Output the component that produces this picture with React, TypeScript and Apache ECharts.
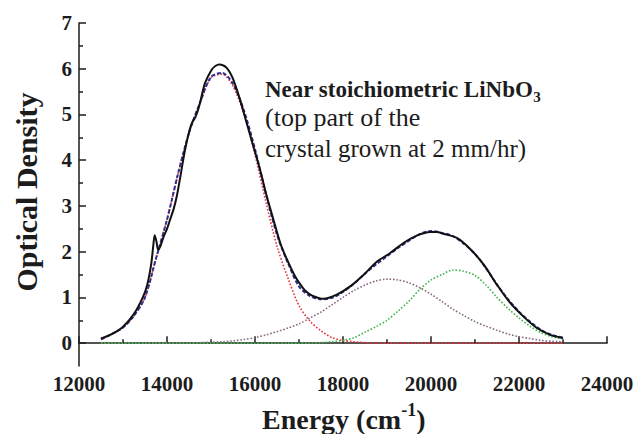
import React, { useEffect, useRef } from "react";
import * as echarts from "echarts";

// Energy grid of the fitted curves (cm^-1)
const fitEnergy = [12500, 12750, 13000, 13250, 13500, 13750, 14000, 14250, 14500, 14750, 15000, 15250, 15500, 15750, 16000, 16250, 16500, 16750, 17000, 17250, 17500, 17750, 18000, 18250, 18500, 18750, 19000, 19250, 19500, 19750, 20000, 20250, 20500, 20750, 21000, 21250, 21500, 21750, 22000, 22250, 22500, 22750, 23000];

// Total fit (blue dashed)
const fitTotal = [0.08, 0.2, 0.34, 0.6, 1.0, 1.85, 2.7, 3.7, 4.6, 5.26, 5.82, 5.91, 5.67, 5.08, 4.24, 3.26, 2.37, 1.75, 1.24, 1.03, 0.96, 0.99, 1.12, 1.3, 1.52, 1.72, 1.9, 2.08, 2.24, 2.39, 2.45, 2.41, 2.34, 2.17, 1.95, 1.64, 1.28, 0.96, 0.69, 0.47, 0.29, 0.18, 0.12];

// Gaussian components (dotted)
const bandRed = [0.08, 0.2, 0.34, 0.6, 1.0, 1.85, 2.7, 3.7, 4.6, 5.25, 5.8, 5.88, 5.62, 5.0, 4.12, 3.08, 2.12, 1.42, 0.82, 0.48, 0.27, 0.12, 0.06, 0.03, 0.01, 0, 0, 0, 0, 0, 0, 0, 0, 0, 0, 0, 0, 0, 0, 0, 0, 0, 0];
const bandMauve = [0, 0, 0, 0, 0, 0, 0, 0, 0, 0.01, 0.02, 0.03, 0.05, 0.08, 0.12, 0.18, 0.25, 0.33, 0.42, 0.55, 0.68, 0.84, 1.0, 1.15, 1.27, 1.36, 1.4, 1.38, 1.32, 1.21, 1.07, 0.91, 0.74, 0.6, 0.47, 0.37, 0.28, 0.2, 0.14, 0.1, 0.06, 0.04, 0.03];
const bandGreen = [0, 0, 0, 0, 0, 0, 0, 0, 0, 0, 0, 0, 0, 0, 0, 0, 0, 0, 0, 0, 0.01, 0.03, 0.06, 0.12, 0.24, 0.36, 0.5, 0.7, 0.92, 1.18, 1.38, 1.5, 1.6, 1.57, 1.48, 1.27, 1.0, 0.76, 0.55, 0.37, 0.23, 0.14, 0.09];

// Measured spectrum (black)
const measuredEnergy = [12500, 12750, 13000, 13250, 13450, 13550, 13640, 13690, 13720, 13760, 13800, 13850, 13920, 14000, 14070, 14150, 14220, 14300, 14410, 14520, 14580, 14640, 14700, 14750, 14865, 15015, 15100, 15190, 15280, 15356, 15430, 15508, 15661, 15812, 15964, 16115, 16267, 16419, 16570, 16680, 16800, 16900, 17025, 17150, 17300, 17555, 17858, 18162, 18465, 18768, 19071, 19374, 19677, 19981, 20133, 20284, 20587, 20890, 21194, 21497, 21800, 22103, 22407, 22710, 23000];
const measuredOD = [0.1, 0.2, 0.36, 0.64, 1.0, 1.27, 1.72, 2.15, 2.36, 2.22, 2.04, 2.12, 2.32, 2.5, 2.7, 2.93, 3.2, 3.62, 4.23, 4.68, 4.84, 4.93, 5.08, 5.25, 5.69, 5.98, 6.06, 6.09, 6.07, 6.02, 5.92, 5.76, 5.32, 4.81, 4.3, 3.79, 3.21, 2.7, 2.2, 1.93, 1.68, 1.48, 1.29, 1.14, 1.04, 0.97, 1.06, 1.24, 1.49, 1.78, 1.97, 2.19, 2.35, 2.43, 2.43, 2.39, 2.3, 2.06, 1.72, 1.28, 0.88, 0.58, 0.33, 0.18, 0.11];

const yMajorTicks = [0, 1, 2, 3, 4, 5, 6, 7];
const yMinorTicks = [0.5, 1.5, 2.5, 3.5, 4.5, 5.5, 6.5];

const SERIF = "Liberation Serif, Times New Roman, serif";
const INK = "#1c1c1c";

function measure(text: string, font: string): number {
  const ctx = document.createElement("canvas").getContext("2d");
  if (!ctx) return text.length * 10;
  ctx.font = font;
  return ctx.measureText(text).width;
}

function zip(xs: number[], ys: number[]) {
  return xs.map((x, i) => [x, ys[i]]);
}

export default function App() {
  const ref = useRef<HTMLDivElement>(null);
  useEffect(() => {
    if (!ref.current) return;
    const chart = echarts.init(ref.current, undefined, { renderer: "svg" });

    const titleMain = "Near stoichiometric LiNbO";
    const titleW = measure(titleMain, `bold 23px ${SERIF}`);
    const xTitleMain = "Energy (cm";
    const xTitleW = measure(xTitleMain, `bold 28px ${SERIF}`);
    const supW = measure("-1", `bold 18px ${SERIF}`);

    const txt = (size: number, bold: boolean) => ({
      fill: INK,
      fontFamily: SERIF,
      fontSize: size,
      fontWeight: bold ? "bold" : "normal",
      align: "left",
      verticalAlign: "middle",
    });

    const dotted = (color: string) => ({ color, width: 1.6, type: [1.6, 1.8] as any, cap: "butt" as const });

    chart.setOption({
      animation: false,
      grid: { left: 79, right: 31, top: 23, bottom: 68 },
      xAxis: {
        type: "value",
        min: 12000,
        max: 24000,
        interval: 2000,
        axisLine: { show: true, lineStyle: { color: INK, width: 1.5 } },
        axisTick: { show: true, inside: true, length: 7, lineStyle: { color: INK, width: 1.5 } },
        minorTick: { show: true, splitNumber: 2, length: 4, lineStyle: { color: INK, width: 1.5 } },
        splitLine: { show: false },
        axisLabel: { color: INK, fontFamily: SERIF, fontWeight: "bold", fontSize: 21, margin: 7, formatter: (v: number) => String(v) },
      },
      yAxis: [
        {
          type: "value",
          min: -0.5,
          max: 7,
          axisLine: { show: true, lineStyle: { color: INK, width: 1.5 } },
          axisTick: { show: true, inside: true, length: 7, customValues: yMajorTicks, lineStyle: { color: INK, width: 1.5 } },
          axisLabel: { customValues: yMajorTicks, color: INK, fontFamily: SERIF, fontWeight: "bold", fontSize: 21, margin: 7 },
          splitLine: { show: false },
        },
        {
          type: "value",
          min: -0.5,
          max: 7,
          position: "left",
          axisLine: { show: false },
          axisTick: { show: true, inside: true, length: 4, customValues: yMinorTicks, lineStyle: { color: INK, width: 1.5 } },
          axisLabel: { show: false },
          splitLine: { show: false },
        },
      ],
      series: [
        { type: "line", name: "band 1", data: zip(fitEnergy, bandRed), showSymbol: false, smooth: 0.3, lineStyle: dotted("#e8303a"), z: 2 },
        { type: "line", name: "band 2", data: zip(fitEnergy, bandMauve), showSymbol: false, smooth: 0.3, lineStyle: dotted("#8a6a7e"), z: 2 },
        { type: "line", name: "band 3", data: zip(fitEnergy, bandGreen), showSymbol: false, smooth: 0.3, lineStyle: dotted("#3cb54a"), z: 2 },
        { type: "line", name: "fit", data: zip(fitEnergy, fitTotal), showSymbol: false, smooth: 0.3, lineStyle: { color: "#2e3192", width: 2, type: [4, 2] as any }, z: 3 },
        { type: "line", name: "measured", data: zip(measuredEnergy, measuredOD), showSymbol: false, smooth: 0.3, lineStyle: { color: "#111111", width: 2 }, z: 4 },
      ],
      graphic: [
        { type: "text", x: 26, y: 192, rotation: Math.PI / 2, style: { ...txt(30, true), text: "Optical Density", align: "center" } },
        { type: "text", x: 262, y: 419, style: { ...txt(28, true), text: xTitleMain } },
        { type: "text", x: 262 + xTitleW, y: 410, style: { ...txt(18, true), text: "-1" } },
        { type: "text", x: 262 + xTitleW + supW, y: 419, style: { ...txt(28, true), text: ")" } },
        { type: "text", x: 265, y: 89, style: { ...txt(23, true), text: titleMain } },
        { type: "text", x: 265 + titleW, y: 97, style: { ...txt(15, true), text: "3" } },
        { type: "text", x: 265, y: 117, style: { ...txt(26, false), text: "(top part of the" } },
        { type: "text", x: 265, y: 148, style: { ...txt(25, false), text: "crystal grown at 2 mm/hr)" } },
      ],
    });
    return () => chart.dispose();
  }, []);

  return <div ref={ref} style={{ position: "fixed", left: 0, top: 0, width: 638, height: 434, background: "#fff" }} />;
}
